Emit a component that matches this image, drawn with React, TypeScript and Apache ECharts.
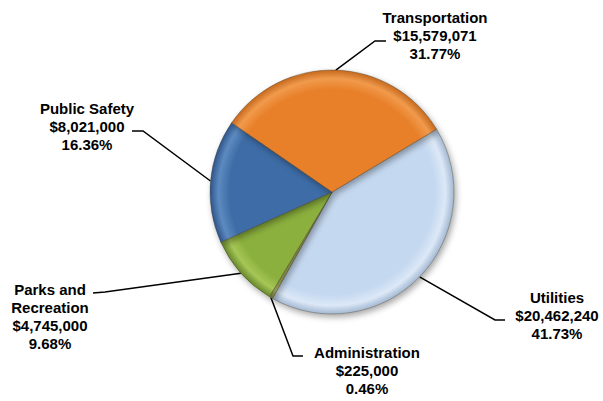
import React, { useEffect, useRef } from "react";
import * as echarts from "echarts";

const categories = ["Utilities", "Administration", "Parks and\nRecreation", "Public Safety", "Transportation"];
const values = [20462240, 225000, 4745000, 8021000, 15579071];
const baseColors = ["#C4D8F0", "#A8B45A", "#8BB03D", "#3E6CA6", "#E8802A"];
const rimColors = ["#DCE8F7", "#C0CA70", "#A6C656", "#5C8AC0", "#F19A4C"];
const edgeColors = ["#A3B8D2", "#7E8A3A", "#66872C", "#2E558B", "#C4691E"];

// label anchor (center x, center y) and label line bend points
const labelPos: [number, number][] = [
  [557, 315],
  [367, 370],
  [50, 316],
  [87, 126],
  [435, 35],
];
const linePts: [number, number][][] = [
  [[495, 320], [505, 320]],
  [[293, 356], [303, 356]],
  [[105, 292], [93, 293]],
  [[143, 131], [132, 131]],
  [[375, 41], [386, 41]],
];

const CX = 332;
const CY = 192;
const R = 122;

function fmtMoney(v: number) {
  return "$" + v.toString().replace(/\B(?=(\d{3})+(?!\d))/g, ",");
}

export default function App() {
  const ref = useRef<HTMLDivElement>(null);
  useEffect(() => {
    if (!ref.current) return;
    const chart = echarts.init(ref.current, undefined, { renderer: "svg" });
    const data = categories.map((name, i) => ({
      name,
      value: values[i],
      itemStyle: {
        color: {
          type: "radial",
          x: CX,
          y: CY,
          r: R,
          global: true,
          colorStops: [
            { offset: 0, color: baseColors[i] },
            { offset: 0.84, color: baseColors[i] },
            { offset: 0.93, color: rimColors[i] },
            { offset: 1, color: edgeColors[i] },
          ],
        },
      },
    }));
    chart.setOption({
      animation: false,
      backgroundColor: "#ffffff",
      series: [
        {
          type: "pie",
          center: [CX, CY],
          radius: R,
          startAngle: 31,
          clockwise: true,
          avoidLabelOverlap: false,
          data,
          itemStyle: {
            borderColor: "rgba(60,50,30,0.45)",
            borderWidth: 0.8,
            shadowBlur: 6,
            shadowOffsetX: 2,
            shadowOffsetY: 3,
            shadowColor: "rgba(0,0,0,0.35)",
          },
          label: {
            show: true,
            position: "outside",
            formatter: (p: any) => `${p.name}\n${fmtMoney(p.value)}\n${p.percent.toFixed(2)}%`,
            fontFamily: "Liberation Sans, Arial, sans-serif",
            fontWeight: "bold",
            fontSize: 15,
            lineHeight: 18,
            color: "#000000",
            align: "center",
          },
          labelLine: {
            show: true,
            lineStyle: { color: "#000000", width: 1.5 },
          },
          labelLayout: (params: any) => {
            const i = params.dataIndex;
            const start = params.labelLinePoints ? params.labelLinePoints[0] : [CX, CY];
            return {
              x: labelPos[i][0],
              y: labelPos[i][1],
              align: "center",
              verticalAlign: "middle",
              labelLinePoints: [start, linePts[i][0], linePts[i][1]],
            };
          },
        },
      ],
    });
    return () => chart.dispose();
  }, []);
  return (
    <div
      ref={ref}
      style={{ position: "fixed", left: 0, top: 0, width: 603, height: 401 }}
    />
  );
}
